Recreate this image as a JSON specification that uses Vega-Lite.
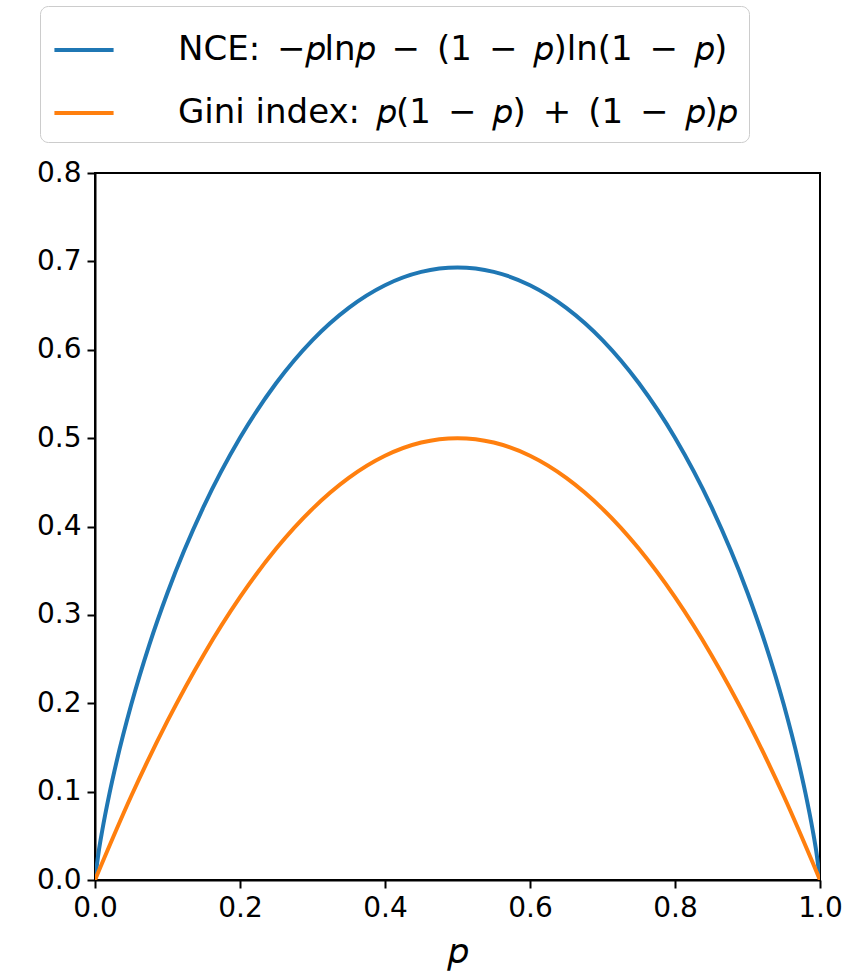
{
  "$schema": "https://vega.github.io/schema/vega-lite/v6.json",
  "width": 725,
  "height": 707,
  "autosize": {"type": "none"},
  "padding": {"left": 95, "top": 173, "right": 34, "bottom": 100},
  "background": "white",
  "config": {
    "font": "DejaVu Sans",
    "view": {"stroke": "black", "strokeWidth": 2},
    "axis": {
      "grid": false,
      "domainColor": "black",
      "domainWidth": 2,
      "tickColor": "black",
      "tickWidth": 2,
      "tickSize": 8,
      "labelFont": "DejaVu Sans",
      "labelFontSize": 28,
      "labelColor": "black",
      "labelPadding": 6,
      "titleFont": "DejaVu Sans",
      "titleColor": "black",
      "titleFontWeight": "normal"
    }
  },
  "data": {
    "values": [
      {"p": 0, "v": 0, "s": "NCE"},
      {"p": 0.005, "v": 0.0315, "s": "NCE"},
      {"p": 0.01, "v": 0.056, "s": "NCE"},
      {"p": 0.02, "v": 0.098, "s": "NCE"},
      {"p": 0.03, "v": 0.1347, "s": "NCE"},
      {"p": 0.05, "v": 0.1985, "s": "NCE"},
      {"p": 0.075, "v": 0.2664, "s": "NCE"},
      {"p": 0.1, "v": 0.3251, "s": "NCE"},
      {"p": 0.15, "v": 0.4227, "s": "NCE"},
      {"p": 0.2, "v": 0.5004, "s": "NCE"},
      {"p": 0.25, "v": 0.5623, "s": "NCE"},
      {"p": 0.3, "v": 0.6109, "s": "NCE"},
      {"p": 0.35, "v": 0.6474, "s": "NCE"},
      {"p": 0.4, "v": 0.673, "s": "NCE"},
      {"p": 0.45, "v": 0.6881, "s": "NCE"},
      {"p": 0.5, "v": 0.6931, "s": "NCE"},
      {"p": 0.55, "v": 0.6881, "s": "NCE"},
      {"p": 0.6, "v": 0.673, "s": "NCE"},
      {"p": 0.65, "v": 0.6474, "s": "NCE"},
      {"p": 0.7, "v": 0.6109, "s": "NCE"},
      {"p": 0.75, "v": 0.5623, "s": "NCE"},
      {"p": 0.8, "v": 0.5004, "s": "NCE"},
      {"p": 0.85, "v": 0.4227, "s": "NCE"},
      {"p": 0.9, "v": 0.3251, "s": "NCE"},
      {"p": 0.925, "v": 0.2664, "s": "NCE"},
      {"p": 0.95, "v": 0.1985, "s": "NCE"},
      {"p": 0.97, "v": 0.1347, "s": "NCE"},
      {"p": 0.98, "v": 0.098, "s": "NCE"},
      {"p": 0.99, "v": 0.056, "s": "NCE"},
      {"p": 0.995, "v": 0.0315, "s": "NCE"},
      {"p": 1, "v": 0, "s": "NCE"},
      {"p": 0, "v": 0, "s": "Gini"},
      {"p": 0.05, "v": 0.095, "s": "Gini"},
      {"p": 0.1, "v": 0.18, "s": "Gini"},
      {"p": 0.15, "v": 0.255, "s": "Gini"},
      {"p": 0.2, "v": 0.32, "s": "Gini"},
      {"p": 0.25, "v": 0.375, "s": "Gini"},
      {"p": 0.3, "v": 0.42, "s": "Gini"},
      {"p": 0.35, "v": 0.455, "s": "Gini"},
      {"p": 0.4, "v": 0.48, "s": "Gini"},
      {"p": 0.45, "v": 0.495, "s": "Gini"},
      {"p": 0.5, "v": 0.5, "s": "Gini"},
      {"p": 0.55, "v": 0.495, "s": "Gini"},
      {"p": 0.6, "v": 0.48, "s": "Gini"},
      {"p": 0.65, "v": 0.455, "s": "Gini"},
      {"p": 0.7, "v": 0.42, "s": "Gini"},
      {"p": 0.75, "v": 0.375, "s": "Gini"},
      {"p": 0.8, "v": 0.32, "s": "Gini"},
      {"p": 0.85, "v": 0.255, "s": "Gini"},
      {"p": 0.9, "v": 0.18, "s": "Gini"},
      {"p": 0.95, "v": 0.095, "s": "Gini"},
      {"p": 1, "v": 0, "s": "Gini"}
    ]
  },
  "mark": {"type": "line", "strokeWidth": 4, "interpolate": "monotone", "clip": true},
  "encoding": {
    "x": {
      "field": "p",
      "type": "quantitative",
      "scale": {"domain": [0, 1], "nice": false, "zero": false},
      "axis": {"values": [0, 0.2, 0.4, 0.6, 0.8, 1.0], "format": ".1f", "title": "𝑝", "titleFontSize": 36, "titlePadding": 12, "labelFlush": false}
    },
    "y": {
      "field": "v",
      "type": "quantitative",
      "scale": {"domain": [0, 0.8], "nice": false},
      "axis": {"values": [0, 0.1, 0.2, 0.3, 0.4, 0.5, 0.6, 0.7, 0.8], "format": ".1f", "title": null, "labelFlush": false}
    },
    "color": {
      "field": "s",
      "type": "nominal",
      "scale": {"domain": ["NCE", "Gini"], "range": ["#1f77b4", "#ff7f0e"]},
      "legend": {
        "title": null,
        "orient": "none",
        "legendX": -55,
        "legendY": -167,
        "direction": "vertical",
        "symbolType": "stroke",
        "symbolStrokeWidth": 4,
        "symbolSize": 3500,
        "labelFontSize": 34,
        "labelFont": "DejaVu Sans",
        "labelColor": "black",
        "labelExpr": "datum.label == 'NCE' ? 'NCE:\u2002−𝑝ln𝑝\u2002−\u2002(1\u2002−\u2002𝑝)ln(1\u2002−\u2002𝑝)' : 'Gini index:\u2002𝑝(1\u2002−\u2002𝑝)\u2002+\u2002(1\u2002−\u2002𝑝)𝑝'",
        "labelLimit": 800,
        "rowPadding": 14,
        "labelOffset": 62,
        "padding": 12,
        "offset": 0,
        "strokeColor": "#cccccc",
        "fillColor": "white",
        "cornerRadius": 8
      }
    }
  }
}
